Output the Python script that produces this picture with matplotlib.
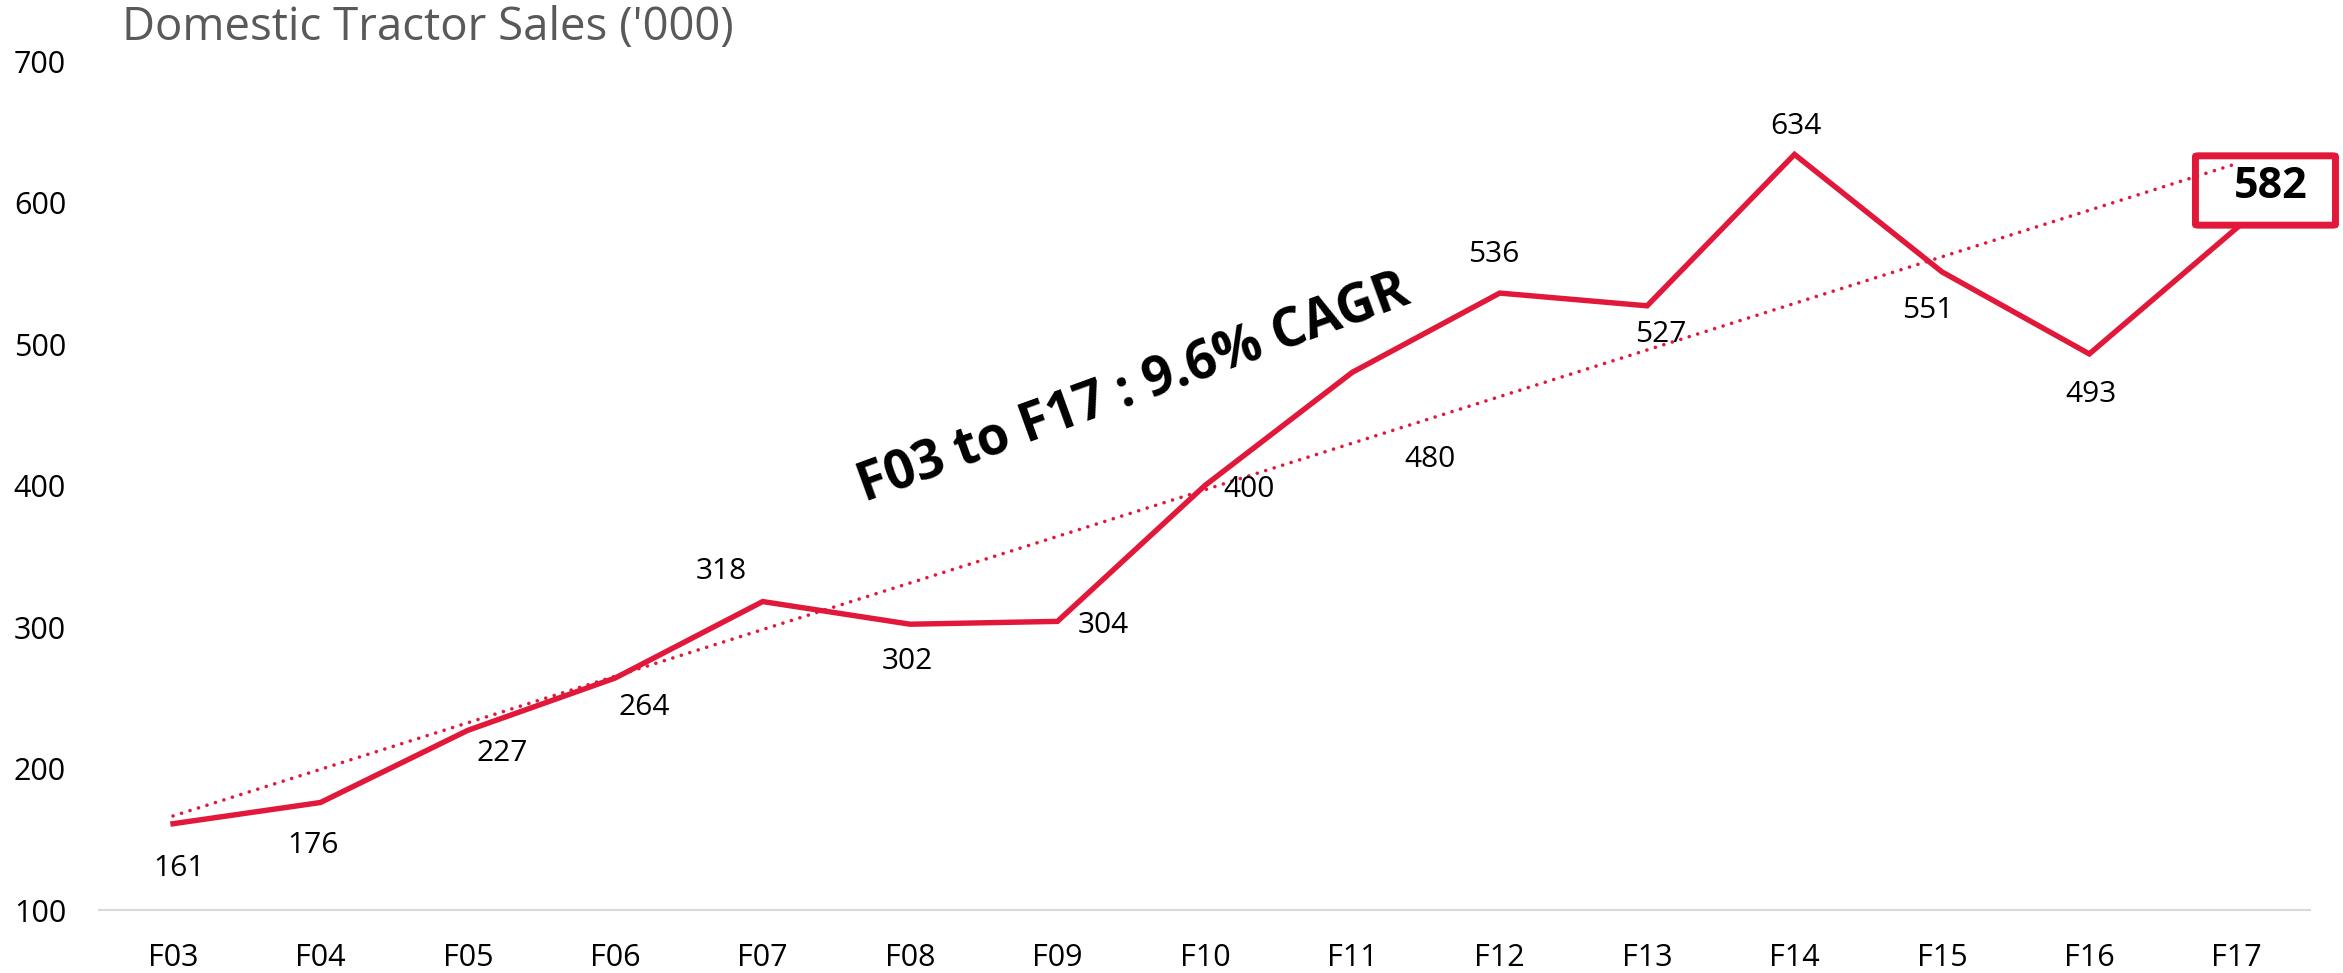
import numpy as np
import matplotlib
matplotlib.use("Agg")
import matplotlib.pyplot as plt
from matplotlib.patches import FancyBboxPatch

# ---- data ----
years = ["F03", "F04", "F05", "F06", "F07", "F08", "F09", "F10",
         "F11", "F12", "F13", "F14", "F15", "F16", "F17"]
sales = [161, 176, 227, 264, 318, 302, 304, 400, 480, 536, 527, 634, 551, 493, 582]
y_ticks = [100, 200, 300, 400, 500, 600, 700]
title = "Domestic Tractor Sales ('000)"
cagr_text = "F03 to F17 : 9.6% CAGR"

# label offsets (points) for each data label
label_offsets = [(4, -32), (-5, -31), (25, -17), (21, -21), (-30, 22), (-2, -27),
                 (33, -3), (32, -3), (56, -63), (-4, 28), (10, -21), (1, 20),
                 (-10, -28), (1, -29), None]

RED = "#E2183A"
plt.rcParams['font.family'] = ['Open Sans', 'DejaVu Sans']

fig = plt.figure(figsize=(23.43, 9.73), dpi=100)
ax = fig.add_axes([0.0424, 0.0647, 0.9437, 0.8726])

x = np.arange(len(years))
ax.plot(x, sales, color=RED, lw=3.9, solid_joinstyle='miter', zorder=3)

# linear trend line
coef = np.polyfit(x, sales, 1)
trend = np.polyval(coef, x[[0, -1]])
ax.plot(x[[0, -1]], trend, color=RED, lw=2.6, linestyle=(0, (0.01, 2.45)),
        dash_capstyle='round', zorder=3)

ax.set_xlim(-0.5, len(years) - 0.5)
ax.set_ylim(100, 700)
ax.set_xticks(x)
ax.set_xticklabels(years)
ax.set_yticks(y_ticks)
ax.tick_params(axis='both', length=0, labelsize=22, colors='black')
ax.tick_params(axis='y', pad=24)
ax.tick_params(axis='x', pad=24)
for s in ['top', 'right', 'left']:
    ax.spines[s].set_visible(False)
ax.spines['bottom'].set_color('#D9D9D9')
ax.spines['bottom'].set_linewidth(1.5)

# data labels
for xi, v, off in zip(x, sales, label_offsets):
    if off is None:
        continue
    ax.annotate(str(v), (xi, v), xytext=off, textcoords='offset points',
                ha='center', va='center', fontsize=21.5, color='black', zorder=4)

# highlighted last value
box = FancyBboxPatch((13.72, 584), 0.95, 49,
                     boxstyle="round,pad=0,rounding_size=0.02",
                     transform=ax.transData, facecolor='white', edgecolor=RED,
                     lw=5, clip_on=False, zorder=2, mutation_aspect=30)
ax.add_patch(box)
ax.text(14.23, 611, str(sales[-1]), ha='center', va='center', fontsize=31,
        fontweight='bold', color='black', zorder=5, clip_on=False)

# CAGR annotation
ax.text(6.52, 468, cagr_text, ha='center', va='center', fontsize=38,
        fontweight='bold', color='black', rotation=20, rotation_mode='anchor', zorder=5)

fig.text(122 / 2343, 1 - 28 / 973, title, ha='left', va='center', fontsize=32.8,
         color='#595959', fontweight='normal')

fig.savefig("out.png", dpi=100)
